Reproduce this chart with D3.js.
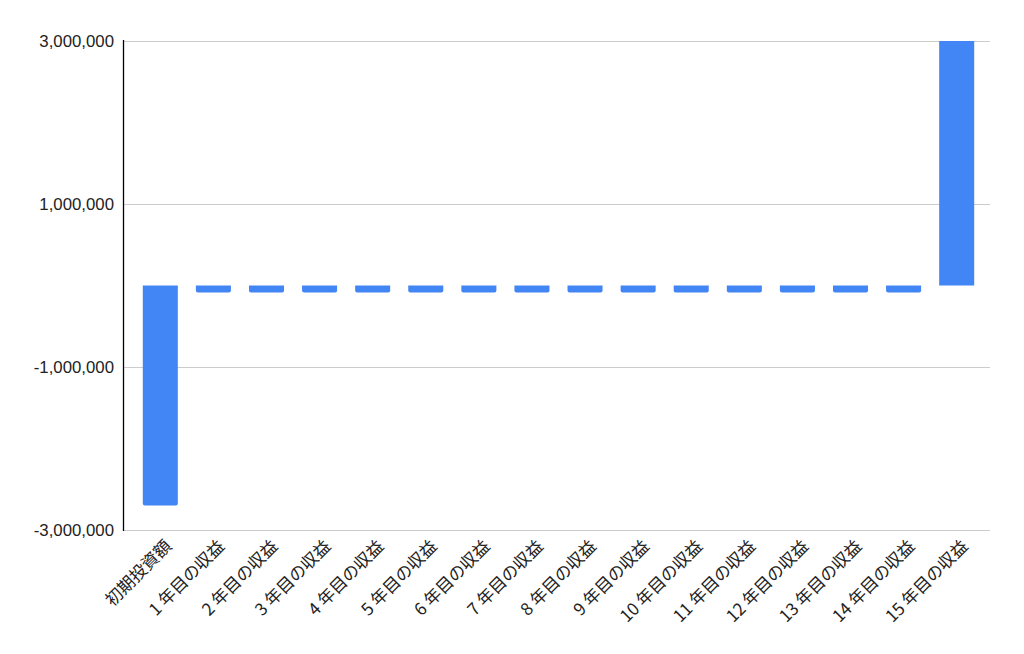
<!DOCTYPE html>
<html><head><meta charset="utf-8">
<script src="https://cdn.jsdelivr.net/npm/d3@7"></script>
<style>body{margin:0;background:#fff}svg{display:block}</style>
</head><body>
<svg id="c" width="1024" height="654"></svg>
<script>
const categories = ["初期投資額","1 年目の収益","2 年目の収益","3 年目の収益","4 年目の収益","5 年目の収益","6 年目の収益","7 年目の収益","8 年目の収益","9 年目の収益","10 年目の収益","11 年目の収益","12 年目の収益","13 年目の収益","14 年目の収益","15 年目の収益"];
const values = [-2700000,-85000,-85000,-85000,-85000,-85000,-85000,-85000,-85000,-85000,-85000,-85000,-85000,-85000,-85000,3000000];
const yTicks = [-3000000,-1000000,1000000,3000000];

(function(){
const svg = d3.select("#c");
const pL = 123, pR = 990, pT = 41, pB = 530;
const x = d3.scaleBand().domain(categories).range([pL + 2, pR + 2]).paddingInner(0.34).paddingOuter(0.335);
const y = d3.scaleLinear().domain([-3000000, 3000000]).range([pB, pT]).clamp(true);

svg.append("g").selectAll("line").data(yTicks).join("line")
  .attr("x1", pL).attr("x2", pR)
  .attr("y1", d => Math.round(y(d)) + 0.5).attr("y2", d => Math.round(y(d)) + 0.5)
  .attr("stroke", "#cccccc").attr("stroke-width", 1);

const fmt = d3.format(",");
svg.append("g").selectAll("text").data(yTicks).join("text")
  .attr("x", 114).attr("y", d => y(d)).attr("dy", "0.35em")
  .attr("text-anchor", "end")
  .attr("font-family", "Liberation Sans, Arial, sans-serif").attr("font-size", 16.8)
  .attr("fill", "#222").text(d => fmt(d).replace("\u2212", "-"));

function barPath(d, i) {
  const x0 = x(categories[i]), w = x.bandwidth();
  const y0 = y(0), y1 = y(d);
  const r = 2;
  if (d < 0) {
    return `M${x0},${y0}H${x0+w}V${y1-r}Q${x0+w},${y1} ${x0+w-r},${y1}H${x0+r}Q${x0},${y1} ${x0},${y1-r}Z`;
  } else {
    return `M${x0},${y0}H${x0+w}V${y1}H${x0}Z`;
  }
}
svg.append("g").selectAll("path").data(values).join("path")
  .attr("d", (d, i) => barPath(d, i))
  .attr("fill", "#4285f4");

svg.append("line").attr("x1", pL + 0.5).attr("x2", pL + 0.5)
  .attr("y1", pT - 1).attr("y2", pB + 1)
  .attr("stroke", "#000").attr("stroke-width", 1.3);

svg.append("g").selectAll("text").data(categories).join("text")
  .attr("transform", d => `translate(${x(d) + x.bandwidth()/2 + 8},${pB + 13}) rotate(-45)`)
  .attr("text-anchor", "end").attr("dy", "0.35em")
  .attr("font-family", "Noto Sans CJK JP, sans-serif").attr("font-size", 17)
  .attr("fill", "#222").text(d => d);
})();
</script>
</body></html>
